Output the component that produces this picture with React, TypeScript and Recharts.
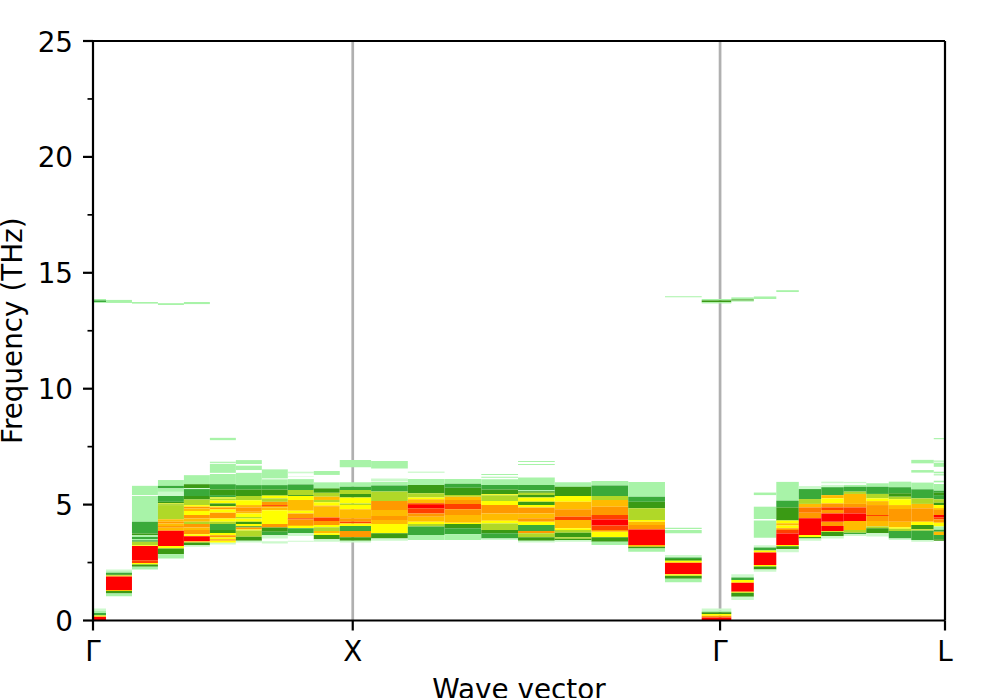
import { AreaChart, Area, XAxis, YAxis, ReferenceLine } from "recharts";

// spectral intensity level -> colour (level 0 means nothing drawn)
const levelColors = [
  "none", "#ccf9cc", "#a8f3a8", "#3aaa3a", "#3a9a14", "#b0d828",
  "#ffff00", "#ffbb00", "#ff9900", "#ff7700", "#ff4000", "#ff0000",
];

const qPoints = [
  0, 0.1, 0.2, 0.3, 0.4, 0.5, 0.6, 0.7, 0.8, 0.9, 1,
  1.1414, 1.2828, 1.4243, 1.5657, 1.7071, 1.8485, 1.9899, 2.1314, 2.2728, 2.4142,
  2.5008, 2.5874, 2.674, 2.7606, 2.8472, 2.9338, 3.0204, 3.107, 3.1936, 3.2802,
];

const xTicks = [0, 1, 2.4142, 3.2802];
const xLabels = ["Γ", "X", "Γ", "L"];
const symmetryPoints = [1, 2.4142];
const yTicks = [0, 2.5, 5, 7.5, 10, 12.5, 15, 17.5, 20, 22.5, 25];

// each q point: [upper frequency edge, level] going down, a band runs to the next edge
const q00 = [[13.87,2],[13.81,3],[13.73,2],[13.7,0],[0.52,1],[0.42,2],[0.32,3],[0.22,6],[0.16,11],[0,0]];
const q01 = [[13.83,2],[13.7,0],[2.2,1],[2.12,2],[2.06,3],[2,4],[1.94,6],[1.9,11],[1.32,7],[1.27,4],[1.17,2],[1.05,0]];
const q02 = [[13.74,2],[13.67,0],[5.81,2],[5.41,0],[5.37,2],[4.26,3],[3.75,4],[3.68,2],[3.6,3],[3.52,2],[3.46,3],[3.4,5],[3.25,6],[3.21,11],[2.6,10],[2.48,6],[2.42,4],[2.32,2],[2.2,0]];
const q03 = [[13.69,2],[13.61,0],[6.06,2],[5.81,3],[5.7,2],[5.55,1],[5.37,3],[5.12,4],[5.05,6],[5,4],[4.98,5],[4.37,7],[4.26,8],[4.18,7],[4.08,8],[4,7],[3.87,11],[3.21,6],[3.11,4],[2.86,2],[2.68,0]];
const q04 = [[13.74,2],[13.65,0],[6.27,2],[5.88,4],[5.71,1],[5.67,3],[5.37,4],[5.22,5],[4.98,6],[4.91,8],[4.83,7],[4.72,6],[4.55,8],[4.4,7],[4.26,5],[4.16,8],[4.01,7],[3.9,8],[3.72,6],[3.64,11],[3.41,6],[3.37,4],[3.25,1],[3.18,0]];
const q05 = [[7.88,2],[7.78,0],[6.85,2],[6.8,0],[6.76,2],[6.37,0],[6.32,2],[5.88,3],[5.65,4],[5.41,3],[5.31,6],[5.26,5],[5.18,6],[5.05,4],[4.93,6],[4.88,8],[4.79,6],[4.65,8],[4.4,6],[4.26,5],[4.16,3],[3.9,4],[3.78,6],[3.68,8],[3.58,6],[3.5,8],[3.44,6],[3.35,1],[3.28,0]];
const q06 = [[6.92,2],[6.75,0],[6.68,2],[6.49,0],[6.37,2],[5.84,3],[5.65,4],[5.37,5],[5.19,6],[4.98,7],[4.88,8],[4.69,7],[4.62,6],[4.47,5],[4.4,6],[4.26,4],[4.16,6],[4.07,4],[4.01,8],[3.93,6],[3.88,5],[3.61,4],[3.44,1],[3.36,0]];
const q07 = [[6.52,2],[6.13,0],[6.09,2],[5.84,3],[5.65,4],[5.41,5],[5.37,6],[5.27,5],[5.12,8],[4.98,10],[4.94,8],[4.88,7],[4.76,6],[4.16,8],[4.01,4],[3.83,3],[3.68,1],[3.54,0],[3.42,1],[3.32,0]];
const q08 = [[6.42,1],[6.35,0],[6.23,1],[6.21,0],[6.1,2],[5.87,3],[5.63,5],[5.41,4],[5.37,6],[5.2,7],[4.74,6],[4.62,8],[4.41,10],[4.36,8],[4.12,7],[4.08,6],[3.98,3],[3.76,1],[3.65,0],[3.44,1],[3.4,0]];
const q09 = [[6.45,2],[6.28,0],[5.96,2],[5.7,4],[5.51,5],[5.34,7],[5.2,5],[5.1,6],[4.95,8],[4.91,7],[4.44,10],[4.29,8],[4.12,6],[4.02,5],[3.86,7],[3.76,6],[3.69,4],[3.5,1],[3.4,0]];
const q10 = [[6.92,2],[6.61,0],[5.96,2],[5.77,3],[5.63,5],[5.46,4],[5.31,6],[5.05,5],[4.98,6],[4.8,7],[4.41,8],[4.26,10],[4.19,6],[4.08,3],[3.86,8],[3.59,4],[3.44,1],[3.37,0]];
const q11 = [[6.88,2],[6.56,0],[6.13,1],[6.02,0],[5.99,2],[5.82,3],[5.56,5],[5.15,8],[4.77,7],[4.51,8],[4.34,7],[4.16,6],[3.76,4],[3.54,1],[3.44,0]];
const q12 = [[6.42,2],[6.38,0],[6.1,2],[5.85,4],[5.49,5],[5.31,6],[5.23,7],[5.06,10],[4.98,11],[4.84,10],[4.62,8],[4.48,7],[4.26,6],[4.16,5],[4.05,3],[3.69,2],[3.47,0]];
const q13 = [[6.1,2],[5.9,3],[5.73,4],[5.41,5],[5.34,7],[5.2,8],[5.03,10],[4.8,8],[4.55,7],[4.22,6],[4.16,4],[3.98,3],[3.72,2],[3.47,0]];
const q14 = [[6.32,2],[6.28,0],[6.2,2],[6.16,0],[6.09,2],[5.85,3],[5.65,4],[5.45,6],[5.4,5],[5.15,6],[4.98,8],[4.62,7],[4.3,6],[4.19,5],[3.9,4],[3.76,3],[3.54,1],[3.47,0]];
const q15 = [[6.88,2],[6.84,0],[6.75,2],[6.71,0],[6.17,2],[5.85,3],[5.62,2],[5.58,4],[5.51,5],[5.41,4],[5.31,6],[5.12,4],[4.98,6],[4.88,8],[4.62,7],[4.41,8],[4.26,6],[4.12,3],[3.86,8],[3.76,5],[3.59,4],[3.44,1],[3.36,0]];
const q16 = [[5.96,2],[5.77,4],[5.37,6],[5.12,7],[4.8,8],[4.48,10],[4.34,7],[3.98,6],[3.9,5],[3.79,4],[3.59,5],[3.53,4],[3.47,1],[3.4,0]];
const q17 = [[6.02,2],[5.82,3],[5.37,5],[5.2,7],[4.91,8],[4.55,10],[4.36,11],[4.1,10],[3.9,8],[3.83,6],[3.59,4],[3.4,2],[3.26,0]];
const q18 = [[5.98,2],[5.34,3],[5.12,4],[4.84,5],[4.34,6],[4.26,7],[4.12,8],[3.93,11],[3.26,7],[3.18,4],[3.11,2],[2.97,0]];
const q19 = [[13.99,2],[13.95,0],[4,2],[3.95,0],[3.9,2],[3.76,0],[2.83,1],[2.72,3],[2.65,4],[2.58,6],[2.49,11],[1.99,6],[1.93,4],[1.8,2],[1.65,0]];
const q20 = [[13.87,2],[13.81,4],[13.73,2],[13.68,0],[0.52,1],[0.42,2],[0.36,4],[0.28,6],[0.2,8],[0.13,11],[0,0]];
const q21 = [[13.94,2],[13.85,4],[13.8,2],[13.76,0],[1.99,1],[1.86,3],[1.75,6],[1.63,11],[1.24,6],[1.2,4],[1.03,1],[0.88,0]];
const q22 = [[13.98,2],[13.87,0],[5.52,2],[5.41,0],[4.91,2],[4.38,0],[4.31,2],[3.57,0],[3.25,1],[3.15,3],[3.02,6],[2.93,11],[2.39,6],[2.33,4],[2.2,1],[2.1,0]];
const q23 = [[14.25,2],[14.17,0],[5.98,2],[5.17,3],[4.88,4],[4.31,6],[4.2,7],[4.1,6],[3.98,8],[3.9,10],[3.75,11],[3.26,6],[3.2,4],[3.08,1],[2.94,0]];
const q24 = [[5.8,1],[5.67,3],[5.24,5],[5.03,7],[4.88,9],[4.65,8],[4.41,11],[3.69,6],[3.6,4],[3.54,1],[3.44,0]];
const q25 = [[5.99,1],[5.92,0],[5.85,1],[5.75,3],[5.41,7],[5.27,6],[5.05,8],[4.88,10],[4.77,8],[4.62,11],[4.26,8],[4.08,11],[3.86,6],[3.83,4],[3.65,1],[3.54,0]];
const q26 = [[5.98,1],[5.92,0],[5.85,2],[5.77,3],[5.56,5],[5.46,7],[5.03,8],[4.88,10],[4.62,11],[4.29,7],[3.9,5],[3.79,3],[3.72,1],[3.65,0]];
const q27 = [[5.92,2],[5.77,3],[5.46,5],[5.27,6],[5.15,7],[4.98,8],[4.55,10],[4.51,8],[4.29,7],[4.05,5],[3.98,4],[3.76,1],[3.62,0]];
const q28 = [[5.99,2],[5.75,3],[5.49,4],[5.34,5],[5.23,6],[4.98,7],[4.81,8],[4.26,7],[4.02,6],[3.96,5],[3.86,3],[3.54,1],[3.47,0]];
const q29 = [[6.93,2],[6.78,0],[6.49,2],[6.38,0],[5.95,2],[5.66,3],[5.27,5],[5.03,7],[4.84,8],[4.26,6],[4.12,4],[3.93,6],[3.88,3],[3.47,1],[3.4,0]];
const q30 = [[7.87,2],[7.82,0],[6.9,2],[6.85,0],[6.81,2],[6.63,0],[6.42,2],[6.35,0],[6.31,2],[6.26,0],[6.03,2],[5.96,0],[5.89,2],[5.6,3],[5.51,4],[5.41,3],[5.23,5],[5.08,4],[4.98,6],[4.85,7],[4.77,8],[4.55,11],[4.45,10],[4.36,8],[4.22,6],[4.05,2],[3.91,3],[3.83,7],[3.69,3],[3.5,4],[3.44,0]];

const spectrum = [
  q00, q01, q02, q03, q04, q05, q06, q07, q08, q09, q10,
  q11, q12, q13, q14, q15, q16, q17, q18, q19, q20,
  q21, q22, q23, q24, q25, q26, q27, q28, q29, q30,
];

// every band becomes a flat range area spanning its q point's cell
const cells = spectrum.flatMap((bands, i) => {
  const left = i === 0 ? qPoints[0] : (qPoints[i - 1] + qPoints[i]) / 2;
  const right = i === qPoints.length - 1 ? qPoints[i] : (qPoints[i] + qPoints[i + 1]) / 2;
  return bands.slice(0, -1).flatMap(([top, level], j) =>
    level === 0
      ? []
      : [{
          key: `${i}-${j}`,
          fill: levelColors[level],
          data: [
            { q: left, band: [bands[j + 1][0], top] },
            { q: right, band: [bands[j + 1][0], top] },
          ],
        }]
  );
});

const font = "DejaVu Sans, sans-serif";
const fontSize = 27.8;
const symmetryHalfWidth = 0.0052; // about 2.7px wide, has to sit under the bands

function FreqTick({ x, y, payload }: any) {
  const major = payload.value % 5 === 0;
  return (
    <g>
      <line x1={x - (major ? 10 : 5.5)} x2={x} y1={y} y2={y} stroke="#000" strokeWidth={major ? 2.2 : 1.7} />
      {major && (
        <text x={x - 20} y={y + 10.5} textAnchor="end" fontSize={fontSize} fontFamily={font} fill="#000">
          {payload.value}
        </text>
      )}
    </g>
  );
}

function QTick({ x, y, payload, index }: any) {
  return (
    <g>
      <line x1={x} x2={x} y1={y} y2={y + 10} stroke="#000" strokeWidth={2.2} />
      <text x={x} y={y + 40.5} textAnchor="middle" fontSize={fontSize} fontFamily={font} fill="#000">
        {xLabels[index]}
      </text>
    </g>
  );
}

export default function App() {
  return (
    <div style={{ position: "absolute", left: 0, top: 0 }}>
      <AreaChart
        width={997}
        height={698}
        margin={{ top: 41, right: 52, bottom: 47.5, left: 33 }}
      >
        <XAxis
          type="number"
          dataKey="q"
          domain={[0, 3.2802]}
          ticks={xTicks}
          tick={<QTick />}
          tickLine={false}
          tickSize={0}
          tickMargin={0}
          interval={0}
          height={30}
          stroke="#000"
          strokeWidth={2.2}
          allowDataOverflow
          label={{ value: "Wave vector", position: "insideBottom", offset: -48, fontSize, fontFamily: font, fill: "#000" }}
        />
        <YAxis
          type="number"
          domain={[0, 25]}
          ticks={yTicks}
          tick={<FreqTick />}
          tickLine={false}
          tickSize={0}
          tickMargin={0}
          interval={0}
          width={60}
          stroke="#000"
          strokeWidth={2.2}
          allowDataOverflow
          label={{ value: "Frequency (THz)", angle: -90, position: "insideLeft", dx: -26, textAnchor: "middle", fontSize, fontFamily: font, fill: "#000" }}
        />
        {symmetryPoints.map((q) => (
          <Area
            key={q}
            data={[
              { q: q - symmetryHalfWidth, band: [0, 25] },
              { q: q + symmetryHalfWidth, band: [0, 25] },
            ]}
            dataKey="band"
            type="linear"
            stroke="none"
            fill="#b0b0b0"
            fillOpacity={1}
            dot={false}
            activeDot={false}
            isAnimationActive={false}
          />
        ))}
        {cells.map((c) => (
          <Area
            key={c.key}
            data={c.data}
            dataKey="band"
            type="linear"
            stroke="none"
            fill={c.fill}
            fillOpacity={1}
            dot={false}
            activeDot={false}
            isAnimationActive={false}
          />
        ))}
        <ReferenceLine y={25} stroke="#000" strokeWidth={2.2} />
        <ReferenceLine x={3.2802} stroke="#000" strokeWidth={2.2} />
      </AreaChart>
    </div>
  );
}
